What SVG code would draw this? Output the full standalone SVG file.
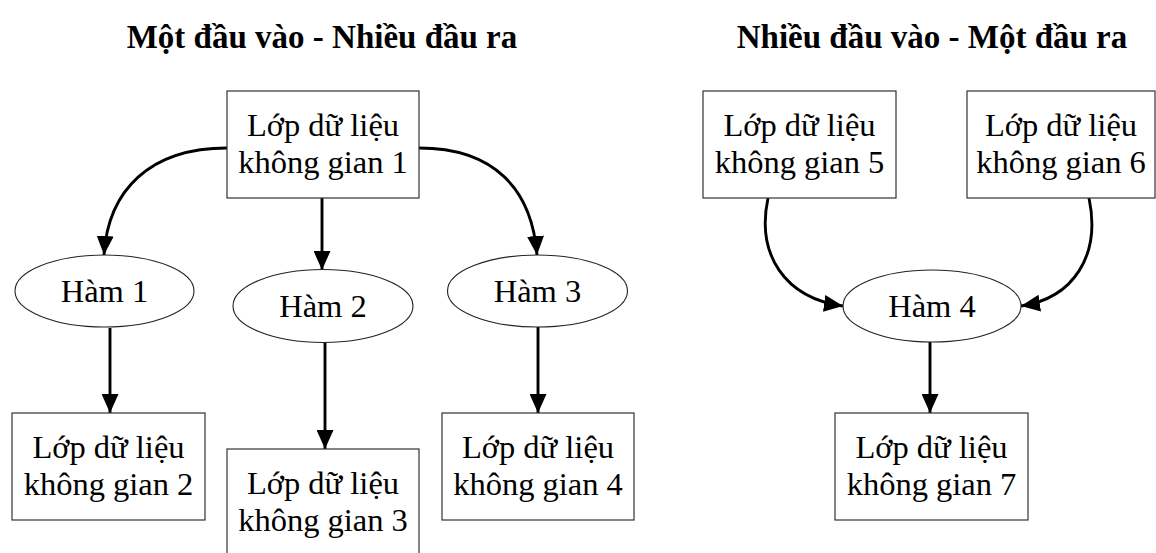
<svg xmlns="http://www.w3.org/2000/svg" width="1156" height="553" viewBox="0 0 1156 553">
<style>
.box{fill:#fff;stroke:#333;stroke-width:1.2}
.ell{fill:#fff;stroke:#222;stroke-width:1.1}
.t{font-family:"Liberation Serif","Times New Roman",serif;font-size:32.5px;fill:#000;text-anchor:middle}
.title{font-family:"Liberation Serif","Times New Roman",serif;font-size:33px;font-weight:bold;fill:#000;text-anchor:middle}
.c{fill:none;stroke:#000;stroke-width:2.9;marker-end:url(#ah)}
</style>
<defs>
<marker id="ah" viewBox="0 0 19 17" markerWidth="19" markerHeight="17" refX="19" refY="8.5" markerUnits="userSpaceOnUse" orient="auto">
<path d="M0,0 L19,8.5 L0,17 z" fill="#000"/>
</marker>
</defs>
<rect width="1156" height="553" fill="#fff"/>
<text class="title" x="322" y="48">Một đầu vào - Nhiều đầu ra</text>
<text class="title" x="932" y="48">Nhiều đầu vào - Một đầu ra</text>
<g id="connectors">
<path class="c" d="M227,148 C150,148 108,190 104,255"/>
<path class="c" d="M322,198 L322,270"/>
<path class="c" d="M419,148 C495,148 532,190 537,255"/>
<path class="c" d="M110,328 L110,413"/>
<path class="c" d="M325,343 L325,449"/>
<path class="c" d="M538,327 L538,413"/>
<path class="c" d="M768,198 C756,255 785,298 843,306"/>
<path class="c" d="M1089,198 C1101,255 1074,298 1021,306"/>
<path class="c" d="M930,342 L930,413"/>
</g>
<g id="n1"><rect class="box" x="227" y="91" width="192" height="107"/><text class="t" x="323" y="136">Lớp dữ liệu</text><text class="t" x="323" y="173">không gian 1</text></g>
<g id="h1"><ellipse class="ell" cx="104.5" cy="291" rx="89.5" ry="36"/><text class="t" x="104.5" y="302">Hàm 1</text></g>
<g id="h2"><ellipse class="ell" cx="323" cy="306" rx="90" ry="36.5"/><text class="t" x="323" y="317">Hàm 2</text></g>
<g id="h3"><ellipse class="ell" cx="537.5" cy="291" rx="90" ry="36"/><text class="t" x="537.5" y="302">Hàm 3</text></g>
<g id="n2"><rect class="box" x="12" y="413" width="193" height="107"/><text class="t" x="108.5" y="458">Lớp dữ liệu</text><text class="t" x="108.5" y="495">không gian 2</text></g>
<g id="n3"><rect class="box" x="227" y="449" width="192" height="107"/><text class="t" x="323" y="494">Lớp dữ liệu</text><text class="t" x="323" y="531">không gian 3</text></g>
<g id="n4"><rect class="box" x="442" y="413" width="192" height="107"/><text class="t" x="538" y="458">Lớp dữ liệu</text><text class="t" x="538" y="495">không gian 4</text></g>
<g id="n5"><rect class="box" x="703" y="91" width="193" height="107"/><text class="t" x="799.5" y="136">Lớp dữ liệu</text><text class="t" x="799.5" y="173">không gian 5</text></g>
<g id="n6"><rect class="box" x="967" y="91" width="188" height="107"/><text class="t" x="1061" y="136">Lớp dữ liệu</text><text class="t" x="1061" y="173">không gian 6</text></g>
<g id="h4"><ellipse class="ell" cx="932" cy="306" rx="89" ry="36"/><text class="t" x="932" y="317">Hàm 4</text></g>
<g id="n7"><rect class="box" x="835" y="413" width="193" height="107"/><text class="t" x="931.5" y="458">Lớp dữ liệu</text><text class="t" x="931.5" y="495">không gian 7</text></g>
</svg>
